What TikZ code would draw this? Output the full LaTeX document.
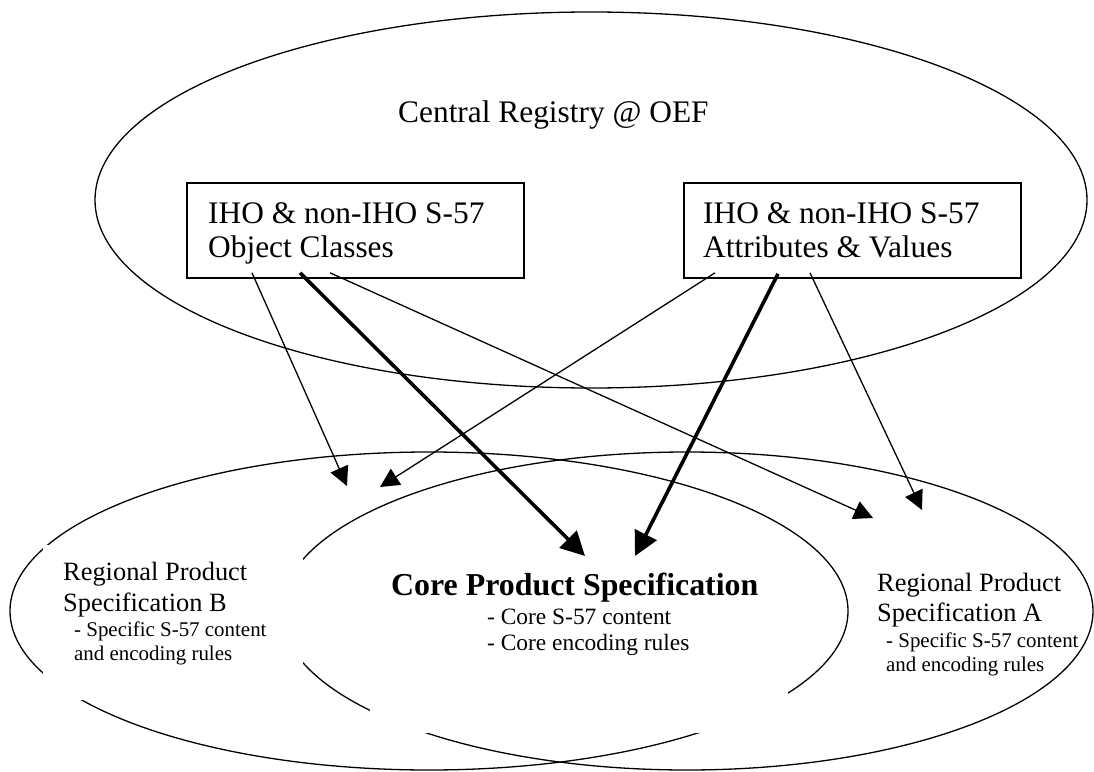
\documentclass[tikz,border=0pt]{standalone}
\usepackage{fontspec}
\setmainfont{Liberation Serif}
\usetikzlibrary{arrows.meta}
\begin{document}
\begin{tikzpicture}[x=1bp,y=-1bp,
  oval/.style={draw, line width=1.3bp},
  txt/.style={anchor=base west, inner sep=0pt},
  big/.style={font=\fontsize{31.5}{34}\selectfont},
  mid/.style={font=\fontsize{26.5}{31}\selectfont},
  small/.style={font=\fontsize{21}{24}\selectfont},
  coresub/.style={font=\fontsize{23.5}{26}\selectfont},
  cover/.style={fill=white, draw=none},
  thinarr/.style={line width=1.3bp, -{Triangle[length=19bp,width=19bp]}},
  thickarr/.style={line width=3.6bp, -{Triangle[length=24bp,width=24bp]}},
  regbox/.style={draw, line width=1.8bp, fill=white, inner sep=0pt, anchor=north west}]
\useasboundingbox (0,0) rectangle (1094,772);
\fill[white] (0,0) rectangle (1094,772);

% ellipses
\draw[oval] (591,200) ellipse [x radius=496, y radius=188];
\draw[oval] (429,611) ellipse [x radius=419, y radius=159];
\draw[oval] (687,611) ellipse [x radius=406, y radius=159];

% white text areas that hide parts of the ellipses
\fill[cover] (43,545) rectangle (303,700);
\fill[cover] (370,548) rectangle (788,733);

% registry boxes
\node[regbox, minimum width=337bp, minimum height=95bp] (oc) at (186,182) {};
\node[regbox, minimum width=337bp, minimum height=95bp] (av) at (683,182) {};

% texts
\node[txt, big] (reg) at (398,122) {Central Registry @ OEF};
\node[txt, big] (oc1) at (208,223) {IHO \& non-IHO S-57};
\node[txt, big] (oc2) at (208,257) {Object Classes};
\node[txt, big] (av1) at (703,223) {IHO \& non-IHO S-57};
\node[txt, big] (av2) at (703,257) {Attributes \& Values};

\node[txt, mid] (b1) at (63,580) {Regional Product};
\node[txt, mid] (b2) at (63,611) {Specification B};
\node[txt, small] (b3) at (74,636) {- Specific S-57 content};
\node[txt, small] (b4) at (74,660) {and encoding rules};

\node[txt, font=\fontsize{32}{34}\selectfont\bfseries] (c1) at (391,595) {Core Product Specification};
\node[txt, coresub] (c2) at (487,624) {- Core S-57 content};
\node[txt, coresub] (c3) at (487,650) {- Core encoding rules};

\node[txt, mid] (a1) at (877,591) {Regional Product};
\node[txt, mid] (a2) at (877,621) {Specification A};
\node[txt, small] (a3) at (886,647) {- Specific S-57 content};
\node[txt, small] (a4) at (886,671) {and encoding rules};

% arrow targets
\coordinate (tB1) at (347,486);
\coordinate (tB2) at (380,487);
\coordinate (tC1) at (585,556);
\coordinate (tC2) at (635,556);
\coordinate (tA1) at (873,518);
\coordinate (tA2) at (922,510);

% arrows
\draw[thinarr]  ([xshift=66bp,yshift=6bp]oc.south west) -- (tB1);
\draw[thickarr] ([xshift=114bp,yshift=6bp]oc.south west) -- (tC1);
\draw[thinarr]  ([xshift=144bp,yshift=6bp]oc.south west) -- (tA1);
\draw[thinarr]  ([xshift=32bp,yshift=6bp]av.south west) -- (tB2);
\draw[thickarr] ([xshift=95bp,yshift=5bp]av.south west) -- (tC2);
\draw[thinarr]  ([xshift=127bp,yshift=6bp]av.south west) -- (tA2);
\end{tikzpicture}
\end{document}
